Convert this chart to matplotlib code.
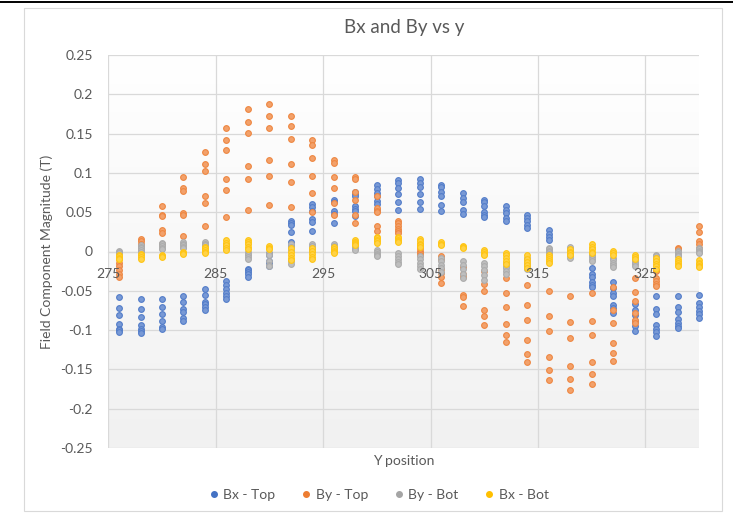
import numpy as np
import matplotlib
matplotlib.use("Agg")
import matplotlib.pyplot as plt
from matplotlib.lines import Line2D
from matplotlib.patches import Rectangle

plt.rcParams['font.family'] = ['Lato', 'DejaVu Sans']

# Y positions of the measurement columns
y_pos = [276, 278, 280, 282, 284, 286, 288, 290, 292, 294, 296, 298, 300, 302,
         304, 306, 308, 310, 312, 314, 316, 318, 320, 322, 324, 326, 328, 330]

# Field components (T), several readings per y position
bx_top = [
    [-0.058, -0.072, -0.081, -0.092, -0.098, -0.100, -0.103],
    [-0.061, -0.073, -0.083, -0.093, -0.098, -0.101, -0.104],
    [-0.060, -0.070, -0.080, -0.089, -0.096, -0.099],
    [-0.056, -0.064, -0.073, -0.077, -0.085, -0.089],
    [-0.048, -0.055, -0.064, -0.067, -0.070, -0.075],
    [-0.038, -0.042, -0.048, -0.053, -0.057, -0.060],
    [-0.022, -0.024, -0.026, -0.029, -0.032],
    [-0.002, -0.004, -0.012, -0.014, -0.017, -0.019],
    [0.039, 0.036, 0.034, 0.025, 0.012, 0.007],
    [0.060, 0.057, 0.051, 0.041, 0.038, 0.026],
    [0.066, 0.063, 0.051, 0.048, 0.036],
    [0.076, 0.073, 0.070, 0.058, 0.054, 0.051, 0.045],
    [0.084, 0.080, 0.075, 0.070, 0.064, 0.060, 0.053],
    [0.091, 0.087, 0.081, 0.073, 0.063, 0.053],
    [0.092, 0.087, 0.082, 0.073, 0.063, 0.054],
    [0.085, 0.082, 0.076, 0.070, 0.059, 0.051],
    [0.075, 0.068, 0.063, 0.053, 0.048],
    [0.066, 0.063, 0.058, 0.050, 0.047, 0.044],
    [0.058, 0.053, 0.049, 0.043, 0.039],
    [0.046, 0.043, 0.039, 0.034, 0.030],
    [0.027, 0.022, 0.018, 0.015],
    [0.003, 0.001, -0.002, -0.004],
    [-0.021, -0.028, -0.033, -0.039, -0.042, -0.045],
    [-0.039, -0.046, -0.053, -0.057, -0.068, -0.072, -0.078],
    [-0.067, -0.074, -0.081, -0.089, -0.095, -0.101],
    [-0.057, -0.073, -0.080, -0.094, -0.098, -0.103, -0.107],
    [-0.057, -0.070, -0.077, -0.086, -0.091, -0.095, -0.097],
    [-0.055, -0.065, -0.070, -0.076, -0.080, -0.084],
]

by_top = [
    [-0.009, -0.014, -0.019, -0.024, -0.028, -0.032],
    [0.016, 0.013, 0.010, 0.007, 0.004, 0.002],
    [0.058, 0.047, 0.045, 0.027, 0.024, 0.009],
    [0.095, 0.081, 0.077, 0.049, 0.046, 0.020],
    [0.126, 0.111, 0.102, 0.070, 0.062, 0.032],
    [0.157, 0.142, 0.129, 0.092, 0.078, 0.044],
    [0.181, 0.165, 0.151, 0.109, 0.092, 0.053],
    [0.188, 0.173, 0.157, 0.117, 0.096, 0.059],
    [0.172, 0.160, 0.143, 0.111, 0.089, 0.057],
    [0.142, 0.135, 0.119, 0.096, 0.074, 0.050],
    [0.117, 0.113, 0.095, 0.081, 0.062, 0.047],
    [0.095, 0.092, 0.076, 0.066, 0.046, 0.036],
    [0.070, 0.055, 0.052, 0.050, 0.033, 0.026],
    [0.039, 0.036, 0.032, 0.029, 0.026, 0.023],
    [0.010, 0.007, 0.004, 0.001, -0.002, -0.004],
    [-0.006, -0.010, -0.022, -0.027, -0.032, -0.040],
    [-0.020, -0.028, -0.033, -0.055, -0.058, -0.069],
    [-0.025, -0.041, -0.050, -0.074, -0.082, -0.093],
    [-0.034, -0.053, -0.070, -0.092, -0.106, -0.115],
    [-0.043, -0.068, -0.087, -0.113, -0.130, -0.140],
    [-0.050, -0.082, -0.101, -0.134, -0.151, -0.164],
    [-0.056, -0.090, -0.110, -0.146, -0.162, -0.176],
    [-0.053, -0.088, -0.106, -0.140, -0.156, -0.168],
    [-0.045, -0.075, -0.091, -0.117, -0.129, -0.139],
    [-0.034, -0.052, -0.063, -0.078, -0.087, -0.091],
    [-0.023, -0.025, -0.034, -0.038, -0.041, -0.044],
    [0.005, 0.003, 0.001, -0.001, -0.003, -0.005],
    [0.032, 0.025, 0.013, 0.010, 0.005, 0.003],
]

by_bot = [
    [0.001, 0.000, -0.002, -0.004, -0.006],
    [0.008, 0.006, 0.004, 0.002, 0.000],
    [0.011, 0.009, 0.007, 0.005, 0.003],
    [0.012, 0.010, 0.008, 0.006, 0.004],
    [0.012, 0.010, 0.008, 0.006, 0.004],
    [0.010, 0.008, 0.006, 0.004, 0.003],
    [-0.001, -0.003, -0.005, -0.007, -0.010],
    [-0.002, -0.005, -0.012, -0.017, -0.019],
    [0.010, 0.006, 0.002, -0.012, -0.016],
    [0.009, 0.007, 0.005, 0.003, 0.001],
    [0.009, 0.007, 0.005, 0.003, 0.002],
    [0.006, 0.005, 0.004, 0.003, 0.002],
    [0.002, -0.001, -0.003, -0.005, -0.006],
    [-0.002, -0.006, -0.010, -0.013, -0.016],
    [-0.006, -0.010, -0.014, -0.018, -0.022],
    [-0.008, -0.012, -0.017, -0.021, -0.026],
    [-0.012, -0.017, -0.022, -0.028, -0.034],
    [-0.014, -0.019, -0.024, -0.030, -0.036],
    [-0.015, -0.018, -0.021, -0.025, -0.029],
    [-0.008, -0.012, -0.016, -0.019, -0.022],
    [0.005, 0.003, 0.001, -0.001, -0.003],
    [0.006, 0.002, -0.002, -0.005, -0.008],
    [-0.003, -0.005, -0.007, -0.009, -0.012],
    [-0.008, -0.011, -0.014, -0.017, -0.020],
    [-0.010, -0.012, -0.014, -0.016, -0.018],
    [-0.004, -0.006, -0.008, -0.010, -0.012],
    [0.001, -0.001, -0.003, -0.005, -0.006],
    [0.005, 0.003, 0.001, -0.001, -0.002],
]

bx_bot = [
    [-0.004, -0.006, -0.008, -0.009, -0.010],
    [-0.003, -0.005, -0.007, -0.009],
    [-0.004, -0.006, -0.007],
    [0.000, -0.002, -0.003],
    [0.006, 0.004, 0.002, 0.000, -0.002],
    [0.014, 0.011, 0.008, 0.005, 0.002],
    [0.015, 0.012, 0.009, 0.006, 0.003],
    [0.007, 0.005, 0.003],
    [0.004, 0.000, -0.004, -0.008, -0.011],
    [0.005, 0.001, -0.003, -0.007, -0.010],
    [0.006, 0.003, 0.001, -0.001, -0.002],
    [0.014, 0.012, 0.011, 0.009, 0.008],
    [0.019, 0.017, 0.015, 0.013, 0.011],
    [0.019, 0.017, 0.015, 0.013, 0.012],
    [0.016, 0.013, 0.010, 0.008, 0.006],
    [0.012, 0.010, 0.008],
    [0.007, 0.006, 0.005],
    [0.002, -0.001, -0.003, -0.005],
    [-0.002, -0.005, -0.008, -0.012, -0.016],
    [-0.004, -0.009, -0.013, -0.017, -0.021],
    [-0.004, -0.007, -0.010, -0.012, -0.014],
    [0.003, 0.000, -0.002, -0.004],
    [0.009, 0.006, 0.003, 0.000, -0.002],
    [0.001, -0.002, -0.005],
    [-0.005, -0.007, -0.009],
    [-0.008, -0.012, -0.016, -0.019, -0.022],
    [-0.010, -0.012, -0.015, -0.017, -0.019],
    [-0.011, -0.014, -0.016, -0.018, -0.020],
]

series_names = ["Bx - Top", "By - Top", "By - Bot", "Bx - Bot"]
series_data = [bx_top, by_top, by_bot, bx_bot]
series_colors = ["#4472C4", "#ED7D31", "#A5A5A5", "#FFC000"]

x_ticks = [275, 285, 295, 305, 315, 325]
y_ticks = [-0.25, -0.2, -0.15, -0.1, -0.05, 0, 0.05, 0.1, 0.15, 0.2, 0.25]
y_tick_labels = ["-0.25", "-0.2", "-0.15", "-0.1", "-0.05", "0",
                 "0.05", "0.1", "0.15", "0.2", "0.25"]

W, H = 733, 513
fig = plt.figure(figsize=(W / 100, H / 100), dpi=100)
fig.patch.set_facecolor("white")


def fx(px):
    return px / W


def fy(py):
    return 1 - py / H


# chart frame and top rule
fig.add_artist(Rectangle((fx(24), fy(511)), fx(722) - fx(24), fy(8) - fy(511),
                         transform=fig.transFigure, fill=False,
                         edgecolor="#d9d9d9", linewidth=0.8))
fig.add_artist(Line2D([0, 1], [fy(1.5), fy(1.5)], transform=fig.transFigure,
                      color="black", linewidth=1.4))

left, right, top, bottom = 108.3, 699, 55, 448
ax = fig.add_axes([fx(left), fy(bottom), fx(right) - fx(left), fy(top) - fy(bottom)])
ax.set_xlim(275, 330)
ax.set_ylim(-0.25, 0.25)

# soft vertical gradient in the plot area
grad = np.linspace(1.0, 0.945, 256).reshape(-1, 1)
ax.imshow(np.dstack([grad, grad, grad]), extent=[275, 330, -0.25, 0.25],
          aspect="auto", origin="upper", zorder=0, interpolation="bilinear")

# gridlines drawn beneath the markers
for yv in y_ticks:
    ax.axhline(yv, color="#d9d9d9", linewidth=0.9, zorder=1)
for xv in x_ticks:
    ax.axvline(xv, color="#d9d9d9", linewidth=0.9, zorder=1)

ax.set_xticks(x_ticks)
ax.set_yticks(y_ticks)
ax.set_yticklabels(y_tick_labels)
for s in ["top", "right", "left"]:
    ax.spines[s].set_visible(False)
ax.spines["bottom"].set_position(("data", 0))
ax.spines["bottom"].set_color("#d9d9d9")
ax.spines["bottom"].set_linewidth(0.9)
ax.spines["bottom"].set_zorder(1.5)
ax.tick_params(axis="both", length=0, colors="#595959", labelsize=10)
ax.tick_params(axis="x", pad=12)
ax.tick_params(axis="y", pad=11)
ax.xaxis.set_zorder(5)


def lighten(c, f):
    rgb = np.array(matplotlib.colors.to_rgb(c))
    return tuple(rgb + (1 - rgb) * f)


for name, data, col in zip(series_names, series_data, series_colors):
    xs = np.concatenate([[x] * len(v) for x, v in zip(y_pos, data)])
    ys = np.concatenate([v for v in data])
    ax.scatter(xs, ys, s=17, facecolor=lighten(col, 0.28), edgecolor=lighten(col, 0.08),
               linewidth=0.8, zorder=3, clip_on=False)

fig.text(fx(404), fy(28), "Bx and By vs y", ha="center", va="center",
         fontsize=13.5, color="#595959")
fig.text(fx(47), fy(252), "Field Component Magnitude (T)", ha="center",
         va="center", rotation=90, fontsize=10, color="#595959")
fig.text(fx(404), fy(461), "Y position", ha="center", va="center",
         fontsize=10, color="#595959")

handles = [Line2D([], [], linestyle="none", marker="o", markersize=4.0,
                  markerfacecolor=c, markeredgecolor=c) for c in series_colors]
leg = fig.legend(handles, series_names, loc="center", ncol=4, frameon=False,
                 bbox_to_anchor=(fx(377), fy(495)), fontsize=10,
                 handletextpad=0.1, columnspacing=1.6, handlelength=1.2)
for t in leg.get_texts():
    t.set_color("#595959")

fig.savefig("out.png", dpi=100)
